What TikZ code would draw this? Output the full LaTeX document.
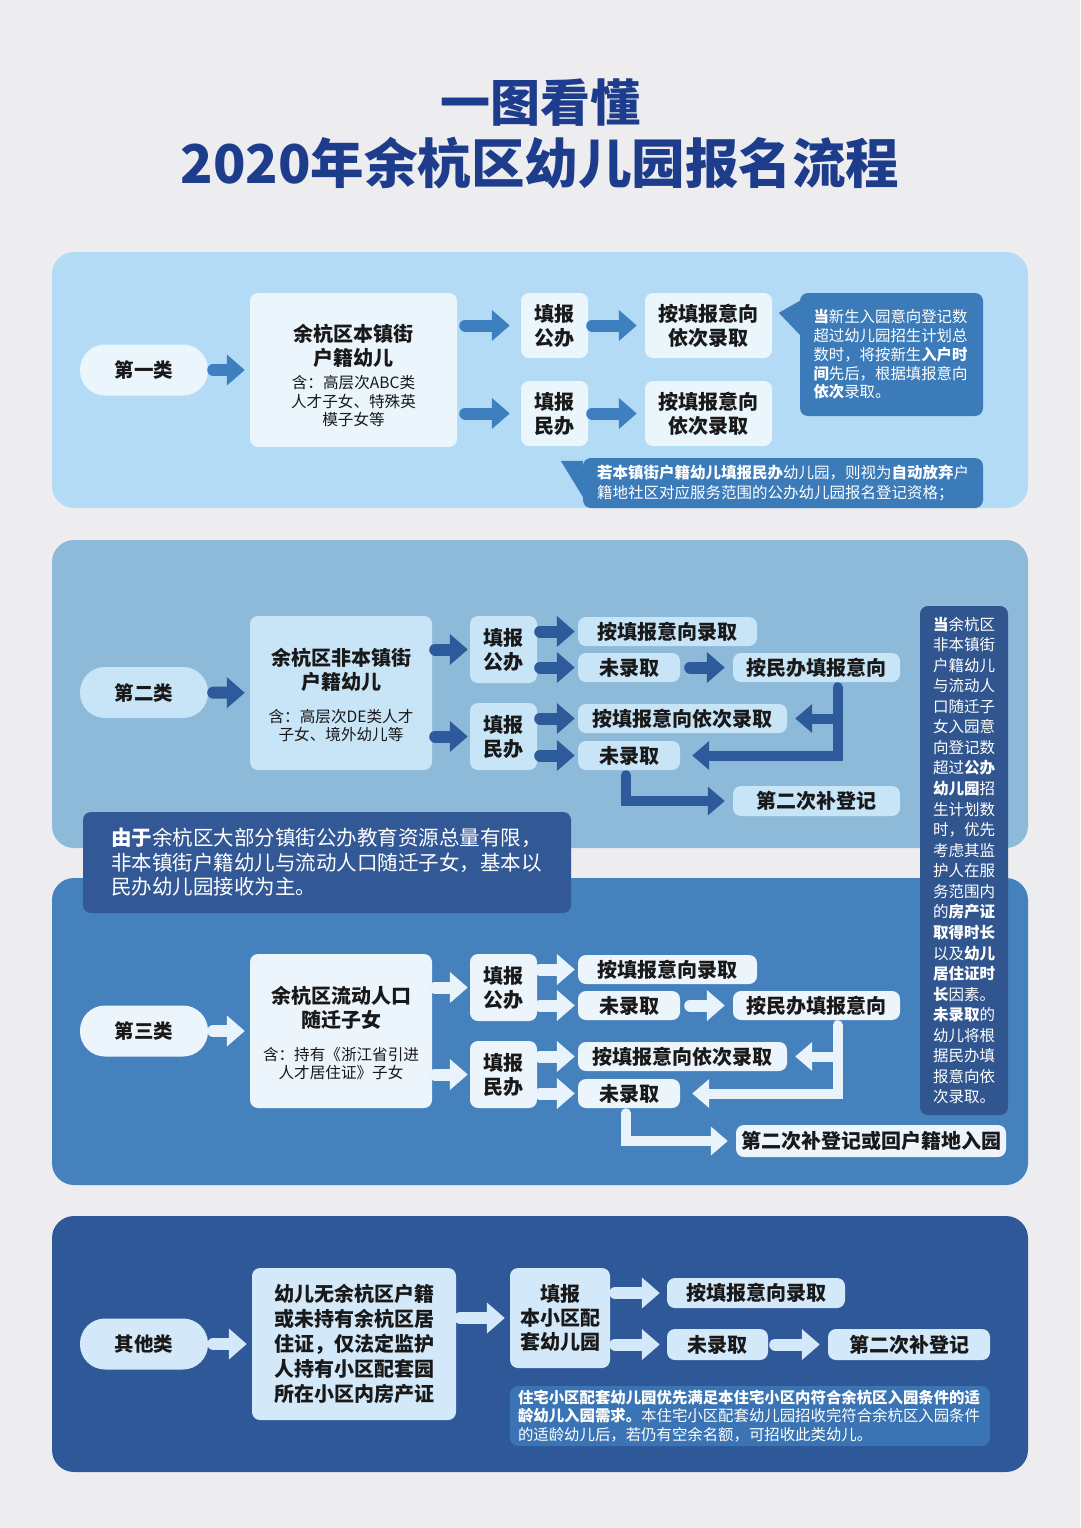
\documentclass[tikz,border=0pt]{standalone}
\usepackage{fontspec}
\setmainfont{Noto Sans CJK SC}
\usetikzlibrary{arrows.meta}
\definecolor{bg}{HTML}{EDEDEF}
\definecolor{titc}{HTML}{1D3D8C}
\definecolor{p1c}{HTML}{B3DBF6}
\definecolor{p2c}{HTML}{8EBAD9}
\definecolor{p3c}{HTML}{4581BD}
\definecolor{p4c}{HTML}{2F5898}
\definecolor{w1}{HTML}{EAF5FC}
\definecolor{w2}{HTML}{C8E4F7}
\definecolor{w3}{HTML}{EDF5FC}
\definecolor{w4}{HTML}{D3E9F9}
\definecolor{a1c}{HTML}{3E7FBF}
\definecolor{a2c}{HTML}{2D5A9A}
\definecolor{a3c}{HTML}{E9F3FB}
\definecolor{c1c}{HTML}{3B7BBA}
\definecolor{n2c}{HTML}{335896}
\definecolor{n3c}{HTML}{30558F}
\definecolor{n4c}{HTML}{3A74B4}
\newcommand{\smalltxt}{\mdseries\fontsize{15.6}{18.5}\selectfont}
\newcommand{\bigtxt}{\fontsize{20}{24}\selectfont}

\begin{document}
\begin{tikzpicture}[x=1pt,y=-1pt]
\tikzstyle{every node}=[text=black!90,font=\bfseries\bigtxt,inner sep=0pt]
\tikzstyle{box}=[rectangle,rounded corners=8pt,align=center]
\tikzstyle{pill}=[box,rounded corners=25pt,minimum width=128pt,minimum height=51pt,font=\bfseries\fontsize{19.5}{23}\selectfont]
\tikzstyle{call}=[rectangle,rounded corners=8pt,align=left,text=white,font=\mdseries\fontsize{15.4}{18.75}\selectfont]
\tikzstyle{arr}=[line width=12pt,line cap=round,-{Triangle[length=18pt,width=30pt]}]
\tikzstyle{bar}=[line width=10pt,line cap=round,-{Triangle[length=17pt,width=28pt]}]
\fill[bg] (0,0) rectangle (1080,1528);
\useasboundingbox (0,0) rectangle (1080,1528);
\fill[p1c,rounded corners=22pt] (52,252) rectangle (1028,508);
\fill[p2c,rounded corners=22pt] (52,540) rectangle (1028,848);
\fill[p3c,rounded corners=22pt] (52,878) rectangle (1028,1185);
\fill[p4c,rounded corners=22pt] (52,1216) rectangle (1028,1472);

\node[text=titc,font=\bfseries\fontsize{50}{56}\selectfont] (t1) at (540,103) {一图看懂};
\node[text=titc,font=\bfseries\fontsize{53.5}{60}\selectfont] (t2) at (540,163) {2020年余杭区幼儿园报名流程};

\node[pill,fill=w1] (k1) at (144,370) {第一类};
\node[box,fill=w1,text width=207pt,minimum height=154pt] (h1) at (353.5,370)
  {{\bigtxt\rule{0pt}{28pt}余杭区本镇街\\户籍幼儿\par}\vspace{5pt}{\smalltxt 含：高层次ABC类\\人才子女、特殊英\\模子女等\par}};
\node[box,fill=w1,minimum width=67pt,minimum height=65pt] (f1a) at (554.5,325.5) {填报\\公办};
\node[box,fill=w1,minimum width=67pt,minimum height=65pt] (f1b) at (554.5,413.5) {填报\\民办};
\node[box,fill=w1,minimum width=127pt,minimum height=65pt] (r1a) at (708.5,325.5) {按填报意向\\依次录取};
\node[box,fill=w1,minimum width=127pt,minimum height=65pt] (r1b) at (708.5,413.5) {按填报意向\\依次录取};
\node[call,fill=c1c,text width=156pt,inner xsep=13.5pt,minimum height=123pt] (n1a) at (891.5,354.5)
  {\textbf{当}新生入园意向登记数\\超过幼儿园招生计划总\\数时，将按新生\textbf{入户时}\\\textbf{间}先后，根据填报意向\\\textbf{依次}录取。};
\fill[c1c] ([yshift=-8pt]n1a.north west) -- ++(-21,12) -- ++(21,22) -- cycle;
\node[call,fill=c1c,text width=372pt,inner xsep=14pt,minimum height=50pt,font=\mdseries\fontsize{15.5}{20}\selectfont] (n1b) at (783,483)
  {\textbf{若本镇街户籍幼儿填报民办}幼儿园，则视为\textbf{自动放弃}户\\籍地社区对应服务范围的公办幼儿园报名登记资格；};
\fill[c1c] ([yshift=-3pt]n1b.north west) -- ++(-22,0) -- ++(22,36) -- cycle;
\draw[arr,a1c,shorten <=5pt,shorten >=5pt] (k1) -- (h1);
\draw[arr,a1c,shorten <=8pt,shorten >=11pt] (h1.east |- f1a) -- (f1a);
\draw[arr,a1c,shorten <=8pt,shorten >=11pt] (h1.east |- f1b) -- (f1b);
\draw[arr,a1c,shorten <=4pt,shorten >=8pt] (f1a) -- (r1a);
\draw[arr,a1c,shorten <=4pt,shorten >=8pt] (f1b) -- (r1b);

\node[pill,fill=w2] (k2) at (144,692.5) {第二类};
\node[box,fill=w2,text width=182pt,minimum height=154pt] (h2) at (341,693)
  {{\bigtxt\rule{0pt}{22pt}余杭区非本镇街\\户籍幼儿\par}\vspace{14pt}{\smalltxt 含：高层次DE类人才\\子女、境外幼儿等\par}};
\node[box,fill=w2,minimum width=67pt,minimum height=67pt] (f2a) at (503.5,649.5) {填报\\公办};
\node[box,fill=w2,minimum width=67pt,minimum height=67pt] (f2b) at (503.5,736.5) {填报\\民办};
\node[box,fill=w2,minimum width=179pt,minimum height=29pt] (r2a) at (667.5,631.5) {按填报意向录取};
\node[box,fill=w2,minimum width=102pt,minimum height=29pt] (r2b) at (629,667.5) {未录取};
\node[box,fill=w2,minimum width=167pt,minimum height=29pt] (r2c) at (816.5,667.5) {按民办填报意向};
\node[box,fill=w2,minimum width=209pt,minimum height=29pt] (r2d) at (682.5,718.5) {按填报意向依次录取};
\node[box,fill=w2,minimum width=102pt,minimum height=29pt] (r2e) at (629,755.5) {未录取};
\node[box,fill=w2,minimum width=167pt,minimum height=30pt] (r2f) at (816.5,801) {第二次补登记};
\coordinate (v2) at ([xshift=21pt]r2c.south);
\draw[arr,a2c,shorten <=5pt,shorten >=5pt] (k2) -- (h2);
\draw[arr,a2c,shorten <=3pt,shorten >=2pt] (h2.east |- f2a) -- (f2a);
\draw[arr,a2c,shorten <=3pt,shorten >=2pt] (h2.east |- f2b) -- (f2b);
\draw[arr,a2c,shorten <=3pt,shorten >=3pt] (f2a.east |- r2a) -- (r2a.west);
\draw[arr,a2c,shorten <=3pt,shorten >=3pt] (f2a.east |- r2b) -- (r2b.west);
\draw[arr,a2c,shorten <=3pt,shorten >=3pt] (f2b.east |- r2d) -- (r2d.west);
\draw[arr,a2c,shorten <=3pt,shorten >=3pt] (f2b.east |- r2e) -- (r2e.west);
\draw[arr,a2c,shorten <=10pt,shorten >=8pt] (r2b) -- (r2c);
\draw[bar,a2c,shorten <=5pt,shorten >=12pt] (v2) |- (r2e.east);
\draw[bar,a2c,shorten >=8pt] (v2 |- r2d.east) -- (r2d.east);
\draw[bar,a2c,shorten <=5pt,shorten >=8pt] ([xshift=-3pt]r2e.south) |- (r2f.west);

\node[pill,fill=w3] (k3) at (144,1031) {第三类};
\node[box,fill=w3,text width=182pt,minimum height=154pt] (h3) at (341,1031)
  {{\bigtxt\rule{0pt}{22pt}余杭区流动人口\\随迁子女\par}\vspace{14pt}{\smalltxt 含：持有《浙江省引进\\人才居住证》子女\par}};
\node[box,fill=w3,minimum width=67pt,minimum height=67pt] (f3a) at (503.5,987.5) {填报\\公办};
\node[box,fill=w3,minimum width=67pt,minimum height=67pt] (f3b) at (503.5,1074.5) {填报\\民办};
\node[box,fill=w3,minimum width=179pt,minimum height=29pt] (r3a) at (667.5,969.5) {按填报意向录取};
\node[box,fill=w3,minimum width=102pt,minimum height=29pt] (r3b) at (629,1005.5) {未录取};
\node[box,fill=w3,minimum width=167pt,minimum height=29pt] (r3c) at (816.5,1005.5) {按民办填报意向};
\node[box,fill=w3,minimum width=209pt,minimum height=29pt] (r3d) at (682.5,1056.5) {按填报意向依次录取};
\node[box,fill=w3,minimum width=102pt,minimum height=29pt] (r3e) at (629,1093.5) {未录取};
\node[box,fill=w3,minimum width=270pt,minimum height=32pt] (r3f) at (871,1141) {第二次补登记或回户籍地入园};
\coordinate (v3) at ([xshift=21pt]r3c.south);
\draw[arr,a3c,shorten <=5pt,shorten >=5pt] (k3) -- (h3);
\draw[arr,a3c,shorten <=3pt,shorten >=2pt] (h3.east |- f3a) -- (f3a);
\draw[arr,a3c,shorten <=3pt,shorten >=2pt] (h3.east |- f3b) -- (f3b);
\draw[arr,a3c,shorten <=3pt,shorten >=3pt] (f3a.east |- r3a) -- (r3a.west);
\draw[arr,a3c,shorten <=3pt,shorten >=3pt] (f3a.east |- r3b) -- (r3b.west);
\draw[arr,a3c,shorten <=3pt,shorten >=3pt] (f3b.east |- r3d) -- (r3d.west);
\draw[arr,a3c,shorten <=3pt,shorten >=3pt] (f3b.east |- r3e) -- (r3e.west);
\draw[arr,a3c,shorten <=10pt,shorten >=8pt] (r3b) -- (r3c);
\draw[bar,a3c,shorten <=5pt,shorten >=12pt] (v3) |- (r3e.east);
\draw[bar,a3c,shorten >=8pt] (v3 |- r3d.east) -- (r3d.east);
\draw[bar,a3c,shorten <=5pt,shorten >=8pt] ([xshift=-3pt]r3e.south) |- (r3f.west);

\node[call,fill=n2c,text width=432pt,inner xsep=28pt,minimum height=101pt,font=\mdseries\fontsize{20.5}{24.5}\selectfont] (n2) at (327,862.5)
  {\textbf{由于}余杭区大部分镇街公办教育资源总量有限，\\非本镇街户籍幼儿与流动人口随迁子女，基本以\\民办幼儿园接收为主。};
\node[call,fill=n3c,text width=62pt,inner xsep=13pt,minimum height=509pt,font=\mdseries\fontsize{15.5}{20.56}\selectfont] (n3) at (964,860.5)
  {\textbf{当}余杭区\\非本镇街\\户籍幼儿\\与流动人\\口随迁子\\女入园意\\向登记数\\超过\textbf{公办}\\\textbf{幼儿园}招\\生计划数\\时，优先\\考虑其监\\护人在服\\务范围内\\的\textbf{房产证}\\\textbf{取得时长}\\以及\textbf{幼儿}\\\textbf{居住证时}\\\textbf{长}因素。\\\textbf{未录取}的\\幼儿将根\\据民办填\\报意向依\\次录取。};

\node[pill,fill=w4] (k4) at (144,1344) {其他类};
\node[box,fill=w4,minimum width=204pt,minimum height=152pt,font=\bfseries\fontsize{20}{25}\selectfont] (h4) at (354,1344)
  {幼儿无余杭区户籍\\或未持有余杭区居\\住证，仅法定监护\\人持有小区配套园\\所在小区内房产证};
\node[box,fill=w4,minimum width=100pt,minimum height=100pt] (f4) at (560,1318) {填报\\本小区配\\套幼儿园};
\node[box,fill=w4,minimum width=178pt,minimum height=30pt] (r4a) at (756,1293) {按填报意向录取};
\node[box,fill=w4,minimum width=101pt,minimum height=31pt] (r4b) at (717.5,1344.5) {未录取};
\node[box,fill=w4,minimum width=162pt,minimum height=31pt] (r4c) at (909,1344.5) {第二次补登记};
\node[call,fill=n4c,text width=464pt,inner xsep=8pt,minimum height=60pt,font=\mdseries\fontsize{15.4}{18.5}\selectfont] (n4) at (750,1416)
  {\textbf{住宅小区配套幼儿园优先满足本住宅小区内符合余杭区入园条件的适}\\\textbf{龄幼儿入园需求。}本住宅小区配套幼儿园招收完符合余杭区入园条件\\的适龄幼儿后，若仍有空余名额，可招收此类幼儿。};
\draw[arr,w4,shorten <=5pt,shorten >=5pt] (k4) -- (h4);
\draw[arr,w4,shorten <=4pt,shorten >=5pt] (h4.east |- f4) -- (f4);
\draw[arr,w4,shorten <=5pt,shorten >=7pt] (f4.east |- r4a) -- (r4a.west);
\draw[arr,w4,shorten <=5pt,shorten >=7pt] (f4.east |- r4b) -- (r4b.west);
\draw[arr,w4,shorten <=7pt,shorten >=8pt] (r4b) -- (r4c);
\end{tikzpicture}
\end{document}
